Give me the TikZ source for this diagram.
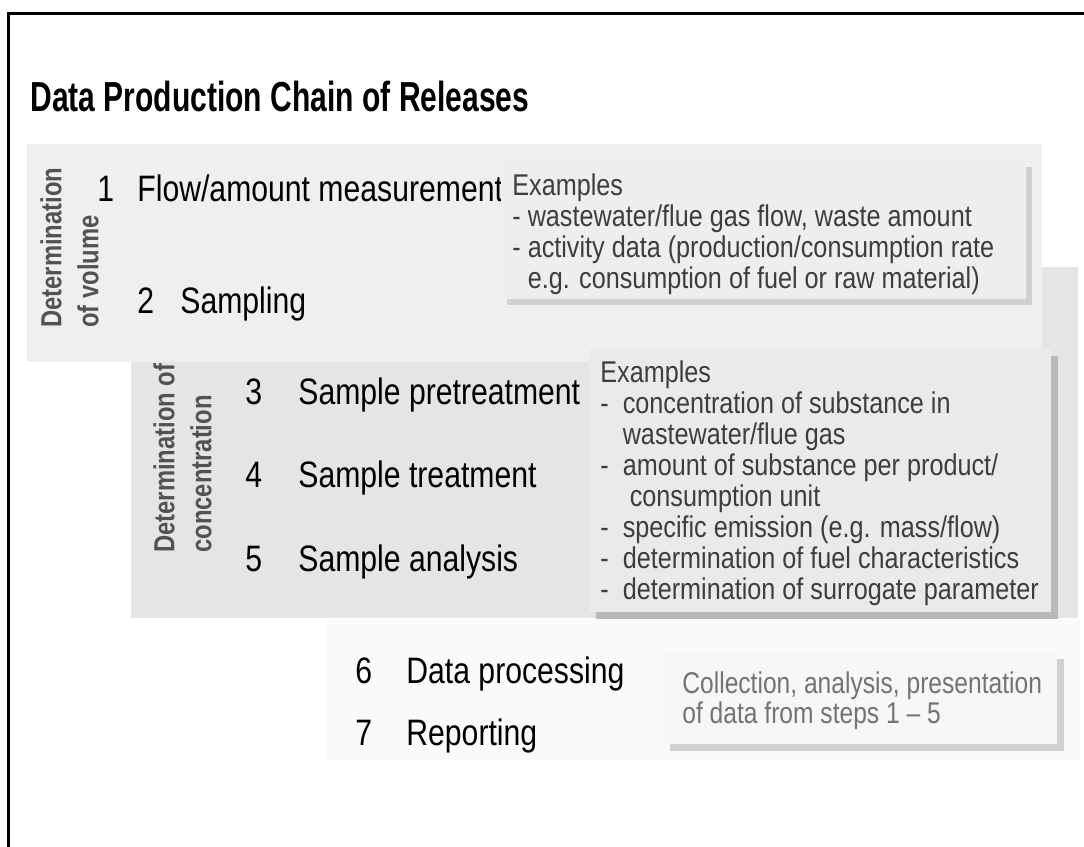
\documentclass[tikz,border=0pt]{standalone}
\usepackage{fontspec}
\setmainfont{Liberation Sans}[FakeStretch=0.82]
\newfontfamily\titlefont{Liberation Sans}[FakeStretch=0.715]
\newfontfamily\notefont{Liberation Sans}[FakeStretch=0.84]
\usetikzlibrary{positioning}
\definecolor{panelA}{HTML}{EFEFEF}
\definecolor{panelB}{HTML}{E5E5E5}
\definecolor{panelC}{HTML}{FAFAFA}
\definecolor{noteA}{HTML}{EEEEEE}
\definecolor{noteB}{HTML}{EAEAEA}
\definecolor{noteC}{HTML}{F7F7F7}
\definecolor{shadowA}{HTML}{D0D0D0}
\definecolor{shadowB}{HTML}{B9B9B9}
\colorlet{labelgray}{black!68}
\colorlet{notegray}{black!76}
\colorlet{notelight}{black!55}

\begin{document}
\begin{tikzpicture}[
        x=0.5pt,
        y=-0.5pt,
        title/.style={
            font=\titlefont\bfseries\fontsize{21}{25}\selectfont,
            anchor=base west,
            inner sep=0pt,
        },
        phase/.style={
            font=\bfseries\fontsize{14.5}{18.5}\selectfont,
            text=labelgray,
            rotate=90,
            align=left,
            anchor=north west,
            inner sep=0pt,
        },
        stepnum/.style={
            font=\fontsize{18.4}{22}\selectfont,
            anchor=base west,
            inner sep=0pt,
        },
        notetext/.style={
            font=\notefont\fontsize{15}{15.5}\selectfont,
            text=notegray,
            align=left,
            anchor=north west,
            inner sep=0pt,
        },
    ]

    \useasboundingbox (0, 0) rectangle (1084, 847);
    \draw[line width=1.5pt] (8, 847) -- (8, 13) -- (1084, 13);

    % panels
    \fill[panelB] (131, 267) rectangle (1078, 618);
    \fill[panelA] (27, 144) rectangle (1042, 362);
    \fill[panelC] (327, 619) rectangle (1080, 760);

    \node[title] (title) at (30, 111) {Data Production Chain of Releases};

    \node[phase] (volume) at (40, 328) {Determination\\of volume};
    \node[phase] (conc) at (153, 553) {Determination of\\concentration};

    \node[stepnum] (n1) at (97, 201) {1};
    \node[stepnum] (s1) at (137, 201) {Flow/amount measurement};
    \node[stepnum] (n2) at (137, 313) {2};
    \node[stepnum] (s2) at (180, 313) {Sampling};
    \node[stepnum] (n3) at (245, 404) {3};
    \node[stepnum] (s3) at (298, 404) {Sample pretreatment};
    \node[stepnum] (n4) at (245, 487) {4};
    \node[stepnum] (s4) at (298, 487) {Sample treatment};
    \node[stepnum] (n5) at (245, 571) {5};
    \node[stepnum] (s5) at (298, 571) {Sample analysis};
    \node[stepnum] (n6) at (355, 683) {6};
    \node[stepnum] (s6) at (406, 683) {Data processing};
    \node[stepnum] (n7) at (355, 745) {7};
    \node[stepnum] (s7) at (406, 745) {Reporting};

    % example boxes
    \fill[shadowA] (507, 167) rectangle (1032, 305);
    \fill[noteA] (501, 161) rectangle (1026, 299);
    \fill[shadowB] (596, 356) rectangle (1058, 619);
    \fill[noteB] (589, 349) rectangle (1051, 612);
    \fill[shadowA] (670, 659) rectangle (1064, 751);
    \fill[noteC] (663, 652) rectangle (1057, 744);

    \node[notetext] (ex1) at (512, 173) {Examples\\
        - wastewater/flue gas flow, waste amount\\
        - activity data (production/consumption rate\\
        \hphantom{- }e.g. consumption of fuel or raw material)};
    \node[notetext] (ex2) at (600, 360) {Examples\\
        -\ \ concentration of substance in\\
        \hphantom{-\ \ }wastewater/flue gas\\
        -\ \ amount of substance per product/\\
        \hphantom{-\ \ \ }consumption unit\\
        -\ \ specific emission (e.g. mass/flow)\\
        -\ \ determination of fuel characteristics\\
        -\ \ determination of surrogate parameter};
    \node[notetext, font=\fontsize{15}{15}\selectfont, text=notelight]
        (ex3) at (682, 671) {Collection, analysis, presentation\\
        of data from steps 1 -- 5};
\end{tikzpicture}
\end{document}
